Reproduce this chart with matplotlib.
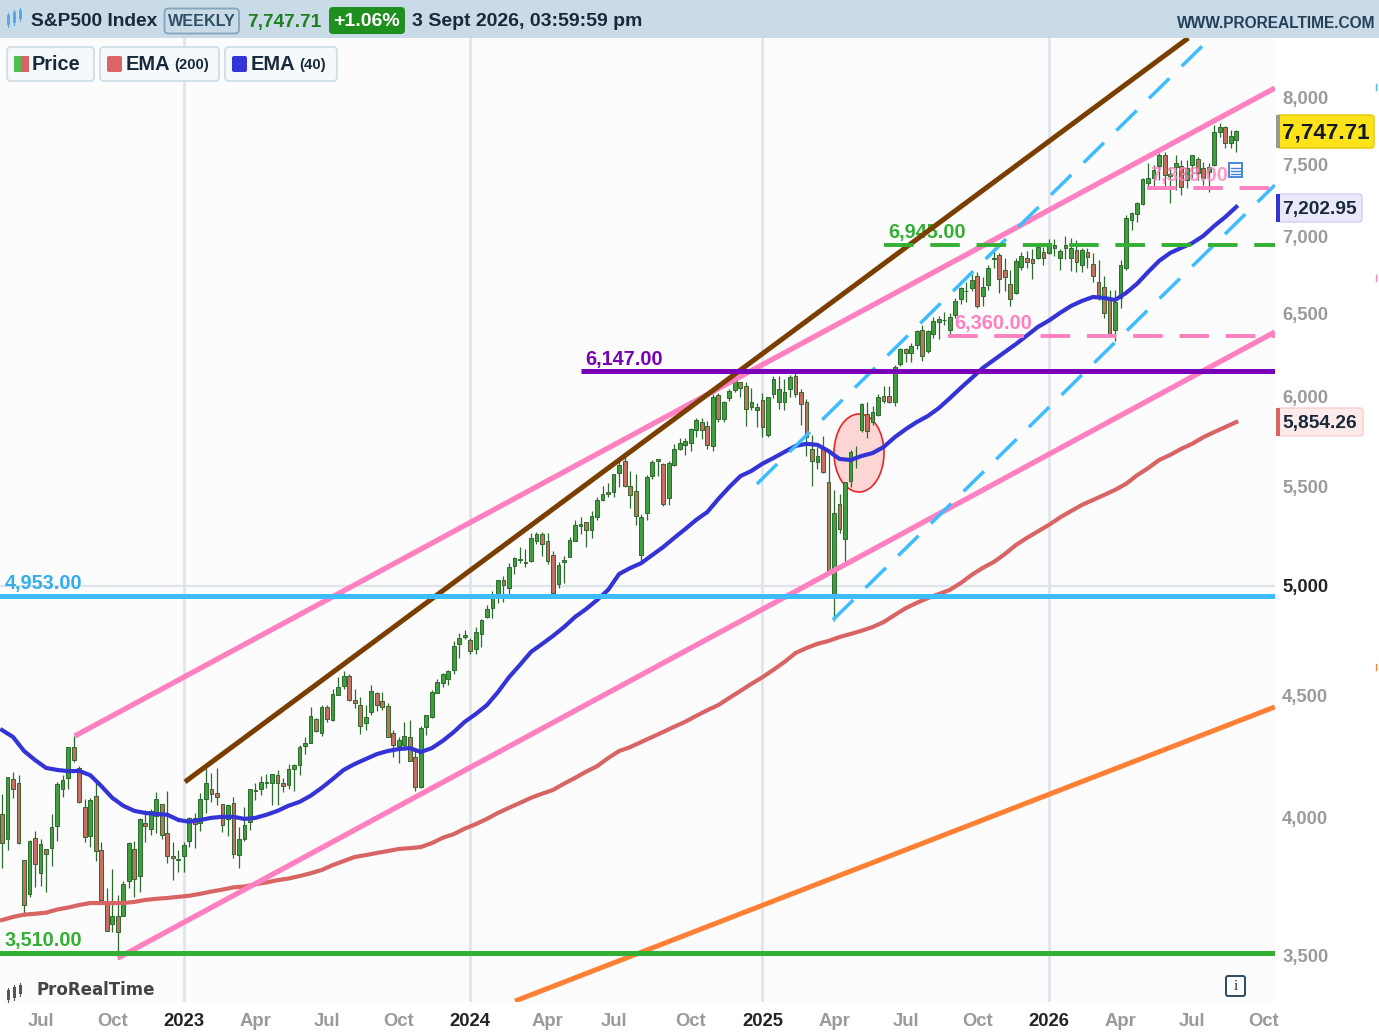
#!/usr/bin/env python3
"""Weekly S&P500 chart with trendlines, EMAs and price levels."""

import numpy as np
import matplotlib
matplotlib.use("Agg")
import matplotlib.pyplot as plt
from matplotlib.lines import Line2D
from matplotlib.patches import Ellipse, FancyBboxPatch, Rectangle
from matplotlib.ticker import NullFormatter, NullLocator
from matplotlib.transforms import IdentityTransform

W, H = 1379, 1034

# weekly candles, oldest first
opens = [
    4013, 3919, 4151, 4134, 3838, 3715, 3920, 3792, 3880, 3883,
    3966, 4112, 4155, 4281, 4195, 4041, 3930, 4084, 3875, 3682,
    3610, 3636, 3638, 3762, 3881, 3780, 3977, 3956, 4005, 4052,
    3939, 3853, 3843, 3853, 3911, 3999, 3978, 4071, 4111, 4096,
    4052, 3992, 4055, 3856, 3917, 3982, 4102, 4110, 4140, 4134,
    4167, 4136, 4127, 4190, 4205, 4283, 4298, 4396, 4337, 4450,
    4394, 4502, 4540, 4585, 4478, 4458, 4380, 4426, 4510, 4473,
    4453, 4338, 4284, 4289, 4321, 4238, 4120, 4365, 4406, 4511,
    4554, 4569, 4610, 4725, 4758, 4745, 4703, 4772, 4853, 4892,
    4958, 5026, 4989, 5094, 5130, 5111, 5123, 5219, 5258, 5218,
    5149, 5010, 5114, 5142, 5222, 5298, 5315, 5278, 5342, 5432,
    5473, 5471, 5572, 5638, 5505, 5476, 5151, 5361, 5557, 5637,
    5623, 5442, 5615, 5702, 5727, 5737, 5810, 5857, 5833, 5723,
    6008, 5869, 5992, 6040, 6083, 6063, 5940, 5920, 5982, 5782,
    6014, 5969, 5969, 6046, 6121, 6026, 5968, 5705, 5635, 5718,
    5527, 4953, 5408, 5232, 5529, 5655, 5808, 5902, 5854, 5897,
    6005, 6005, 5970, 6194, 6279, 6255, 6306, 6397, 6271, 6374,
    6449, 6457, 6396, 6491, 6590, 6640, 6664, 6740, 6610, 6680,
    6850, 6876, 6780, 6690, 6630, 6800, 6860, 6850, 6860, 6895,
    6890, 6925, 6860, 6920, 6860, 6910, 6811, 6895, 6818, 6697,
    6671, 6585, 6397, 6596, 6789, 7111, 7151, 7223, 7373, 7404,
    7493, 7572, 7433, 7483, 7493, 7392, 7500, 7541, 7481, 7450,
    7500, 7739, 7781, 7657, 7684,
]
highs = [
    4090, 4158, 4178, 4168, 3838, 3913, 3946, 3918, 3880, 4012,
    4140, 4167, 4280, 4325, 4203, 4073, 4076, 4139, 3906, 3736,
    3807, 3712, 3762, 3905, 3911, 3999, 4028, 4034, 4100, 4052,
    4101, 3907, 3876, 3906, 4003, 4015, 4095, 4195, 4176, 4195,
    4052, 4048, 4078, 3964, 4039, 4110, 4133, 4163, 4170, 4170,
    4187, 4154, 4212, 4212, 4290, 4322, 4448, 4400, 4458, 4456,
    4527, 4578, 4607, 4594, 4527, 4490, 4458, 4542, 4513, 4514,
    4467, 4350, 4320, 4385, 4394, 4268, 4366, 4415, 4521, 4569,
    4595, 4609, 4739, 4778, 4793, 4755, 4803, 4842, 4907, 4975,
    5030, 5048, 5111, 5140, 5189, 5180, 5262, 5264, 5264, 5263,
    5168, 5114, 5146, 5240, 5325, 5342, 5315, 5375, 5447, 5505,
    5523, 5570, 5655, 5670, 5585, 5566, 5360, 5563, 5644, 5651,
    5626, 5636, 5733, 5767, 5767, 5822, 5878, 5878, 5862, 6012,
    6018, 5972, 6044, 6099, 6085, 6085, 6050, 5965, 6022, 6000,
    6119, 6120, 6100, 6128, 6147, 6044, 5986, 5780, 5715, 5776,
    5700, 5481, 5460, 5528, 5700, 5720, 5960, 5968, 5944, 6016,
    6059, 6059, 6187, 6285, 6290, 6316, 6395, 6428, 6395, 6481,
    6482, 6509, 6500, 6600, 6670, 6700, 6750, 6764, 6735, 6810,
    6920, 6890, 6855, 6780, 6860, 6895, 6900, 6915, 6955, 6930,
    6985, 6985, 6915, 7005, 6990, 6977, 6921, 6921, 6888, 6844,
    6736, 6649, 6649, 6844, 7146, 7170, 7240, 7404, 7512, 7500,
    7584, 7596, 7488, 7572, 7536, 7536, 7572, 7560, 7524, 7512,
    7793, 7811, 7786, 7756, 7760,
]
lows = [
    3810, 3875, 4074, 3900, 3637, 3705, 3741, 3743, 3722, 3818,
    3911, 4079, 4112, 4218, 4057, 3907, 3886, 3837, 3693, 3584,
    3583, 3491, 3638, 3738, 3704, 3721, 3906, 3933, 3940, 3918,
    3827, 3764, 3795, 3794, 3887, 3885, 3949, 4015, 4060, 4047,
    3943, 3928, 3848, 3808, 3909, 3950, 4069, 4087, 4114, 4049,
    4048, 4099, 4110, 4103, 4166, 4250, 4297, 4341, 4328, 4385,
    4391, 4500, 4528, 4474, 4443, 4335, 4350, 4415, 4430, 4435,
    4320, 4239, 4216, 4269, 4223, 4104, 4114, 4329, 4403, 4511,
    4537, 4546, 4593, 4665, 4751, 4682, 4682, 4714, 4845, 4845,
    4918, 4920, 4953, 5058, 5110, 5092, 5117, 5204, 5146, 5107,
    4953, 4990, 5011, 5142, 5218, 5256, 5191, 5234, 5327, 5428,
    5447, 5447, 5497, 5497, 5390, 5302, 5120, 5328, 5540, 5560,
    5402, 5407, 5612, 5698, 5674, 5696, 5773, 5762, 5702, 5696,
    5853, 5853, 5972, 6024, 5995, 5832, 5920, 5829, 5773, 5773,
    5990, 5930, 5924, 6000, 6000, 5837, 5666, 5505, 5597, 5572,
    5074, 4835, 5260, 5101, 5500, 5600, 5800, 5767, 5837, 5890,
    5964, 5960, 5944, 6177, 6201, 6201, 6281, 6212, 6260, 6350,
    6344, 6430, 6360, 6470, 6560, 6570, 6640, 6535, 6550, 6650,
    6790, 6630, 6640, 6550, 6625, 6780, 6790, 6720, 6850, 6810,
    6885, 6870, 6780, 6850, 6770, 6768, 6768, 6789, 6703, 6585,
    6470, 6367, 6330, 6532, 6778, 7044, 7100, 7216, 7333, 7333,
    7392, 7345, 7232, 7321, 7286, 7333, 7404, 7392, 7357, 7309,
    7493, 7707, 7625, 7625, 7596,
]
closes = [
    3901, 4158, 4109, 3901, 3675, 3911, 3825, 3899, 3863, 3962,
    4130, 4145, 4280, 4228, 4058, 3924, 4067, 3873, 3693, 3586,
    3639, 3583, 3752, 3901, 3770, 3992, 3965, 4026, 4072, 3934,
    3852, 3845, 3839, 3895, 3999, 3973, 4071, 4136, 4090, 4079,
    3970, 4046, 3861, 3917, 3971, 4109, 4105, 4137, 4134, 4169,
    4136, 4124, 4191, 4205, 4282, 4299, 4409, 4348, 4450, 4399,
    4505, 4536, 4582, 4478, 4464, 4370, 4406, 4516, 4457, 4450,
    4320, 4288, 4309, 4327, 4224, 4117, 4358, 4415, 4514, 4559,
    4594, 4604, 4719, 4755, 4770, 4697, 4784, 4840, 4891, 4959,
    5027, 5006, 5089, 5137, 5124, 5117, 5234, 5254, 5204, 5123,
    4967, 5100, 5128, 5223, 5303, 5305, 5278, 5347, 5431, 5464,
    5460, 5567, 5615, 5505, 5459, 5346, 5344, 5554, 5635, 5648,
    5408, 5626, 5702, 5738, 5751, 5815, 5865, 5808, 5728, 5995,
    5870, 5969, 6032, 6090, 6051, 5930, 5970, 5942, 5827, 5997,
    6101, 6041, 6026, 6115, 6013, 5955, 5770, 5639, 5668, 5581,
    5074, 5363, 5283, 5525, 5686, 5660, 5958, 5803, 5912, 6000,
    5977, 5967, 6173, 6279, 6259, 6297, 6389, 6238, 6389, 6450,
    6467, 6460, 6478, 6578, 6664, 6645, 6714, 6545, 6670, 6790,
    6858, 6720, 6735, 6590, 6836, 6870, 6830, 6825, 6930, 6855,
    6960, 6945, 6900, 6940, 6925, 6833, 6910, 6866, 6736, 6617,
    6501, 6367, 6574, 6811, 7123, 7158, 7228, 7397, 7404, 7464,
    7572, 7428, 7423, 7512, 7345, 7476, 7572, 7440, 7404, 7483,
    7744, 7781, 7664, 7711, 7747.71,
]

# EMAs read every second week
ema_weeks = list(range(0, 225, 2))
ema40 = [
    4351, 4322, 4264, 4227, 4195, 4187, 4182, 4183, 4166, 4123,
    4076, 4045, 4025, 4017, 4013, 4010, 3990, 3983, 3990, 3998,
    4002, 4002, 3994, 3998, 4010, 4025, 4045, 4060, 4084, 4115,
    4150, 4187, 4211, 4231, 4251, 4264, 4272, 4276, 4260, 4276,
    4306, 4343, 4386, 4419, 4457, 4513, 4578, 4633, 4691, 4727,
    4764, 4805, 4852, 4889, 4932, 4980, 5057, 5086, 5110, 5150,
    5190, 5236, 5281, 5328, 5368, 5436, 5499, 5557, 5585, 5624,
    5655, 5688, 5721, 5733, 5727, 5693, 5650, 5644, 5666, 5682,
    5715, 5769, 5814, 5854, 5888, 5933, 5990, 6050, 6108, 6168,
    6215, 6263, 6311, 6363, 6416, 6456, 6503, 6547, 6579, 6604,
    6598, 6585, 6630, 6689, 6765, 6838, 6890, 6924, 6956, 7004,
    7072, 7133, 7202.95,
]
ema200 = [
    3623, 3634, 3642, 3645, 3649, 3660, 3667, 3676, 3683, 3683,
    3683, 3683, 3687, 3694, 3698, 3701, 3705, 3709, 3716, 3724,
    3731, 3739, 3742, 3750, 3757, 3765, 3771, 3780, 3790, 3802,
    3820, 3835, 3850, 3857, 3865, 3872, 3880, 3883, 3887, 3902,
    3922, 3936, 3957, 3974, 3994, 4017, 4037, 4056, 4076, 4092,
    4107, 4132, 4155, 4180, 4202, 4235, 4264, 4280, 4301, 4322,
    4343, 4365, 4386, 4411, 4435, 4457, 4488, 4518, 4549, 4578,
    4611, 4646, 4686, 4709, 4728, 4741, 4759, 4773, 4788, 4805,
    4828, 4861, 4893, 4918, 4941, 4960, 4980, 5013, 5053, 5087,
    5116, 5155, 5200, 5236, 5269, 5302, 5340, 5373, 5405, 5431,
    5457, 5484, 5516, 5562, 5600, 5644, 5672, 5705, 5733, 5769,
    5798, 5826, 5854.26,
]

# trendlines: (week, price) at both ends
pink_top = ([13.2, 231.0], [4326, 8077])
pink_low = ([21.05, 231.0], [3493, 6385])
brown = ([33.2, 215.3], [4139, 8476])
orange = ([93.1, 231.0], [3351, 4449])
cyan_top = ([137.0, 218.0], [5515, 8418])
cyan_low = ([150.8, 231.0], [4838, 7356])

level_cyan = 4953
level_green_low = 3510
level_purple = 6147
level_green_dash = 6945
level_pink_dash = 6360
level_pink_top = 7338

y_ticks = [3500, 4000, 4500, 5000, 5500, 6000, 6500, 7000, 7500, 8000]
x_ticks = [7, 20, 33, 46, 59, 72, 85, 99, 111, 125, 138, 151, 164, 177, 190, 203, 216, 229]
x_labels = ["Jul", "Oct", "2023", "Apr", "Jul", "Oct", "2024", "Apr", "Jul", "Oct",
            "2025", "Apr", "Jul", "Oct", "2026", "Apr", "Jul", "Oct"]

GREEN = "#3f9f3f"
RED = "#c4705f"
EDGE = "#2d6a2d"
PINK = "#ff80c0"
CYAN = "#3dbcff"
GRID = "#dfe3ea"
FONT = "Liberation Sans"

plt.rcParams["font.family"] = FONT

pix = IdentityTransform()


def fx(px):
    return px / W


def fy(py):
    return 1 - py / H


def box(x0, y0, x1, y1, fc, ec="none", lw=1.0, round_px=0, z=5):
    if round_px:
        p = FancyBboxPatch((x0, H - y1), x1 - x0, y1 - y0,
                           boxstyle=f"round,pad=0,rounding_size={round_px}",
                           fc=fc, ec=ec, lw=lw, zorder=z, transform=pix)
    else:
        p = Rectangle((x0, H - y1), x1 - x0, y1 - y0, fc=fc, ec=ec, lw=lw,
                      zorder=z, transform=pix)
    fig.add_artist(p)


def label(px, py, txt, color, size, ha="left", weight="bold", **kw):
    fig.text(fx(px), fy(py), txt, color=color, fontsize=size, ha=ha, va="center",
             fontweight=weight, zorder=6, **kw)


def candles_icon(x0, y0, color):
    # small three-candle logo, used in the header and the watermark
    for dx, top, bot in [(0, 5, 15), (6, 2, 13), (12, 0, 9)]:
        fig.add_artist(Line2D([fx(x0 + dx)] * 2, [fy(y0 + top - 2), fy(y0 + bot + 2)],
                              color=color, lw=0.8, zorder=6))
        box(x0 + dx - 1.5, y0 + top, x0 + dx + 1.5, y0 + bot, fc=color, z=6)


fig = plt.figure(figsize=(W / 100, H / 100), dpi=100, facecolor="white")

ax = fig.add_axes([0, 1 - 1002 / H, 1275 / W, (1002 - 38) / H], facecolor="#fcfcfc")
ax.set_yscale("log")
ax.set_xlim(-0.363, 231.03)
ax.set_ylim(3348, 8476)
for s in ax.spines.values():
    s.set_visible(False)

# grid: year lines and the 5000 line only
for i, lab in zip(x_ticks, x_labels):
    if lab.isdigit():
        ax.axvline(i, color=GRID, lw=1.9, zorder=1)
ax.axhline(5000, color=GRID, lw=1.6, zorder=1)

ax.yaxis.tick_right()
ax.set_yticks(y_ticks, [f"{v:,}" for v in y_ticks])
ax.yaxis.set_minor_locator(NullLocator())
ax.yaxis.set_minor_formatter(NullFormatter())
ax.tick_params(axis="y", length=0, pad=5.2, labelsize=13.3, labelcolor="#9a9a9a")
for t, v in zip(ax.get_yticklabels(), y_ticks):
    t.set_fontweight("bold")
    if v == 5000:
        t.set_color("#222222")
ax.set_xticks(x_ticks, x_labels)
ax.tick_params(axis="x", length=0, pad=8, labelsize=13.3, labelcolor="#9a9a9a")
for t, lab in zip(ax.get_xticklabels(), x_labels):
    t.set_fontweight("bold")
    if lab.isdigit():
        t.set_color("#222222")

# candles
o = np.array(opens, dtype=float)
h = np.array(highs, dtype=float)
l = np.array(lows, dtype=float)
c = np.array(closes, dtype=float)
weeks = np.arange(len(c))
up = c >= o
ax.vlines(weeks, l, h, color=EDGE, lw=0.9, zorder=2)
ax.bar(weeks, np.abs(c - o), bottom=np.minimum(o, c), width=0.68,
       color=np.where(up, GREEN, RED), edgecolor=EDGE, linewidth=0.7, zorder=2.1)

ax.plot(ema_weeks, ema200, color="#d96464", lw=3.0, zorder=3, solid_joinstyle="round")
ax.plot(ema_weeks, ema40, color="#3434d6", lw=3.0, zorder=3.1, solid_joinstyle="round")

# drawn trendlines
ax.plot(*pink_top, color=PINK, lw=3.8, zorder=3.2, solid_capstyle="butt")
ax.plot(*pink_low, color=PINK, lw=3.8, zorder=3.2, solid_capstyle="butt")
ax.plot(*brown, color="#7a3f00", lw=3.6, zorder=3.3, solid_capstyle="butt")
ax.plot(*orange, color="#ff8034", lw=3.6, zorder=3.3, solid_capstyle="butt")
slant_dash = (0, (8.2, 5.0))
flat_dash = (0, (7.6, 4.3))
ax.plot(*cyan_top, color=CYAN, lw=2.5, ls=slant_dash, zorder=3.4)
ax.plot(*cyan_low, color=CYAN, lw=2.5, ls=slant_dash, zorder=3.4)

# price levels
ax.axhline(level_cyan, color=CYAN, lw=3.6, zorder=3.5)
ax.axhline(level_green_low, color="#33b033", lw=3.6, zorder=3.5)
ax.hlines(level_purple, 105.1, 231.03, color="#7a00b8", lw=3.6, zorder=3.5)
ax.hlines(level_green_dash, 160.1, 231.03, color="#33b033", lw=2.8, ls=flat_dash, zorder=3.5)
ax.hlines(level_pink_dash, 171.7, 231.03, color=PINK, lw=2.8, ls=flat_dash, zorder=3.5)
ax.hlines(level_pink_top, 207.8, 230.2, color=PINK, lw=2.8, ls=flat_dash, zorder=3.5)

for week, level, color, alpha in [(0.5, level_cyan, "#34aeee", 1), (0.5, level_green_low, "#33b033", 1),
                                  (105.9, level_purple, "#7a00b8", 1), (160.8, level_green_dash, "#33b033", 1),
                                  (172.9, level_pink_dash, PINK, 1), (208.4, level_pink_top, PINK, 0.8)]:
    ax.annotate(f"{level:,}.00", (week, level), xytext=(0, 2.1), textcoords="offset points",
                color=color, fontsize=14.3, fontweight="bold", zorder=2.5, alpha=alpha,
                ha="left", va="bottom")

# highlight around the April 2025 recovery
ellipse = Ellipse((fx(859), fy(453)), 50 / W, 78 / H, transform=fig.transFigure,
                  fc=(1, 0.3, 0.3, 0.22), ec="#e8262a", lw=1.2, zorder=1.9)
ax.add_patch(ellipse)

# header band
box(0, 0, W, 38, fc="#c8dbe6", z=4)
candles_icon(8, 10, "#5aa9e6")
label(31, 22, "S&P500 Index", "#17293a", 13.8)
box(164.5, 8.5, 239, 33.5, fc="#c8dbe6", ec="#83a6bd", lw=1.3, round_px=4)
label(201.5, 22, "WEEKLY", "#2f4f66", 11.6, ha="center")
label(247, 22, "7,747.71", "#1e7f1e", 13.7)
box(329, 7, 405, 34, fc="#1f8f1f", round_px=4)
label(367, 22, "+1.06%", "white", 14.0, ha="center")
label(412, 22, "3 Sept 2026, 03:59:59 pm", "#17293a", 14.0)
label(1375, 23, "WWW.PROREALTIME.COM", "#234058", 11.2, ha="right")

# legend chips
for x0, x1 in [(7, 94), (100, 219), (225, 337)]:
    box(x0, 47, x1, 81, fc="#f5f9fc", ec="#cfdfe8", lw=1.3, round_px=4)
box(14, 56, 21, 72, fc="#4fc04f", z=6)
box(21, 56, 29, 72, fc="#dc6464", z=6)
label(32, 64, "Price", "#17293a", 14.4)
box(107, 56, 122, 72, fc="#dc6464", round_px=2, z=6)
label(126, 64, "EMA", "#17293a", 14.4)
label(174, 65, "(200)", "#17293a", 10.7)
box(232, 56, 247, 72, fc="#3434d6", round_px=2, z=6)
label(251, 64, "EMA", "#17293a", 14.4)
label(299, 65, "(40)", "#17293a", 10.7)

# value tags on the price scale
box(1277, 115, 1374, 148, fc="#ffe31a", ec="#e6c800", lw=1, round_px=3)
box(1276, 115, 1280, 148, fc="#999999", z=5.5)
label(1282, 133, "7,747.71", "#111a22", 16.2)
box(1277, 194, 1362, 222, fc="#e9e9fb", ec="#cfcfee", lw=1, round_px=3)
box(1276, 194, 1280, 222, fc="#3434d6", z=5.5)
label(1282, 209.5, "7,202.95", "#17293a", 13.8)
box(1277, 408, 1363, 436, fc="#fdeaea", ec="#f7d0d0", lw=1, round_px=3)
box(1276, 408, 1280, 436, fc="#dc6464", z=5.5)
label(1282, 423.5, "5,854.26", "#17293a", 13.8)

# stubs of lines running past the scale
for py, color in [(87, CYAN), (278, PINK), (667, "#ff8034")]:
    fig.add_artist(Line2D([fx(1376)] * 2, [fy(py - 3), fy(py + 3)], color=color, lw=1.0, zorder=6))

# note icon, info button, watermark
box(1229, 163, 1242, 177, fc="white", ec="#4a86d8", lw=1.4, z=6)
for py in (168, 171, 174):
    fig.add_artist(Line2D([fx(1231), fx(1240)], [fy(py)] * 2, color="#4a86d8", lw=1.0, zorder=6.5))
box(1226, 976, 1245, 996, fc="none", ec="#2c4a5e", lw=1.4, round_px=2, z=6)
label(1235.5, 986, "i", "#1d3346", 11, ha="center", weight="normal", family="Liberation Serif")
candles_icon(8, 985, "#555555")
label(37, 990, "ProRealTime", "#444444", 12, family="DejaVu Sans")

fig.savefig("out.png", dpi=100, facecolor="white")
